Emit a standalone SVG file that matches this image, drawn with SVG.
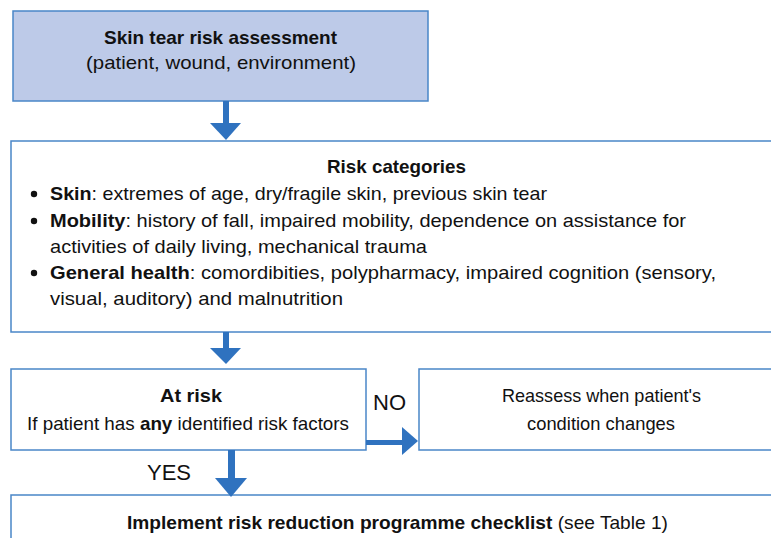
<svg xmlns="http://www.w3.org/2000/svg" width="771" height="538" viewBox="0 0 771 538">
<style>
.box{fill:#fff;stroke:#4A86C8;stroke-width:1.5}
.hdr{fill:#BDCAE8;stroke:#4A86C8;stroke-width:1.5}
text{font-family:"Liberation Sans",Arial,sans-serif;font-size:19px;fill:#111}
.b{font-weight:bold}
.lbl{font-family:"Liberation Sans",Arial,sans-serif;font-size:22px;fill:#111}
.arr{fill:#2F72BF}
</style>
<rect width="771" height="538" fill="#fff"/>
<g id="assessment">
<rect class="hdr" x="13" y="11" width="415" height="90"/>
<text class="b" x="104" y="44" textLength="233" lengthAdjust="spacingAndGlyphs">Skin tear risk assessment</text>
<text x="86" y="69" textLength="270" lengthAdjust="spacingAndGlyphs">(patient, wound, environment)</text>
</g>
<g id="categories">
<rect class="box" x="11" y="141" width="770" height="191"/>
<text class="b" x="327" y="173" textLength="139" lengthAdjust="spacingAndGlyphs">Risk categories</text>
<circle cx="34" cy="194" r="3.2" fill="#111"/>
<circle cx="34" cy="221" r="3.2" fill="#111"/>
<circle cx="34" cy="273" r="3.2" fill="#111"/>
<text x="50" y="200" textLength="497" lengthAdjust="spacingAndGlyphs"><tspan class="b">Skin</tspan>: extremes of age, dry/fragile skin, previous skin tear</text>
<text x="50" y="227" textLength="636" lengthAdjust="spacingAndGlyphs"><tspan class="b">Mobility</tspan>: history of fall, impaired mobility, dependence on assistance for</text>
<text x="50" y="253" textLength="377" lengthAdjust="spacingAndGlyphs">activities of daily living, mechanical trauma</text>
<text x="50" y="279" textLength="666" lengthAdjust="spacingAndGlyphs"><tspan class="b">General health</tspan>: comordibities, polypharmacy, impaired cognition (sensory,</text>
<text x="50" y="305" textLength="293" lengthAdjust="spacingAndGlyphs">visual, auditory) and malnutrition</text>
</g>
<g id="atrisk">
<rect class="box" x="11" y="369" width="355" height="81"/>
<text class="b" x="160" y="402" textLength="62" lengthAdjust="spacingAndGlyphs">At risk</text>
<text x="27" y="430" textLength="322" lengthAdjust="spacingAndGlyphs">If patient has <tspan class="b">any</tspan> identified risk factors</text>
</g>
<g id="reassess">
<rect class="box" x="419" y="369" width="362" height="81"/>
<text x="502" y="402" textLength="199" lengthAdjust="spacingAndGlyphs">Reassess when patient's</text>
<text x="527" y="430" textLength="148" lengthAdjust="spacingAndGlyphs">condition changes</text>
</g>
<g id="checklist">
<rect class="box" x="11" y="495" width="770" height="60"/>
<text x="127" y="529" textLength="541" lengthAdjust="spacingAndGlyphs"><tspan class="b">Implement risk reduction programme checklist</tspan> (see Table 1)</text>
</g>
<g id="connectors">
<rect class="arr" x="223" y="101" width="6" height="23"/>
<polygon class="arr" points="210,123 241,123 226,140"/>
<rect class="arr" x="223" y="332" width="6" height="17"/>
<polygon class="arr" points="210,348 241,348 226,364"/>
<rect class="arr" x="366" y="440" width="37" height="5"/>
<polygon class="arr" points="402,427 402,455 418,441"/>
<rect class="arr" x="228" y="450" width="7" height="29"/>
<polygon class="arr" points="215,478 247,478 231,497"/>
<text class="lbl" x="373" y="410">NO</text>
<text class="lbl" x="147" y="480">YES</text>
</g>
</svg>
